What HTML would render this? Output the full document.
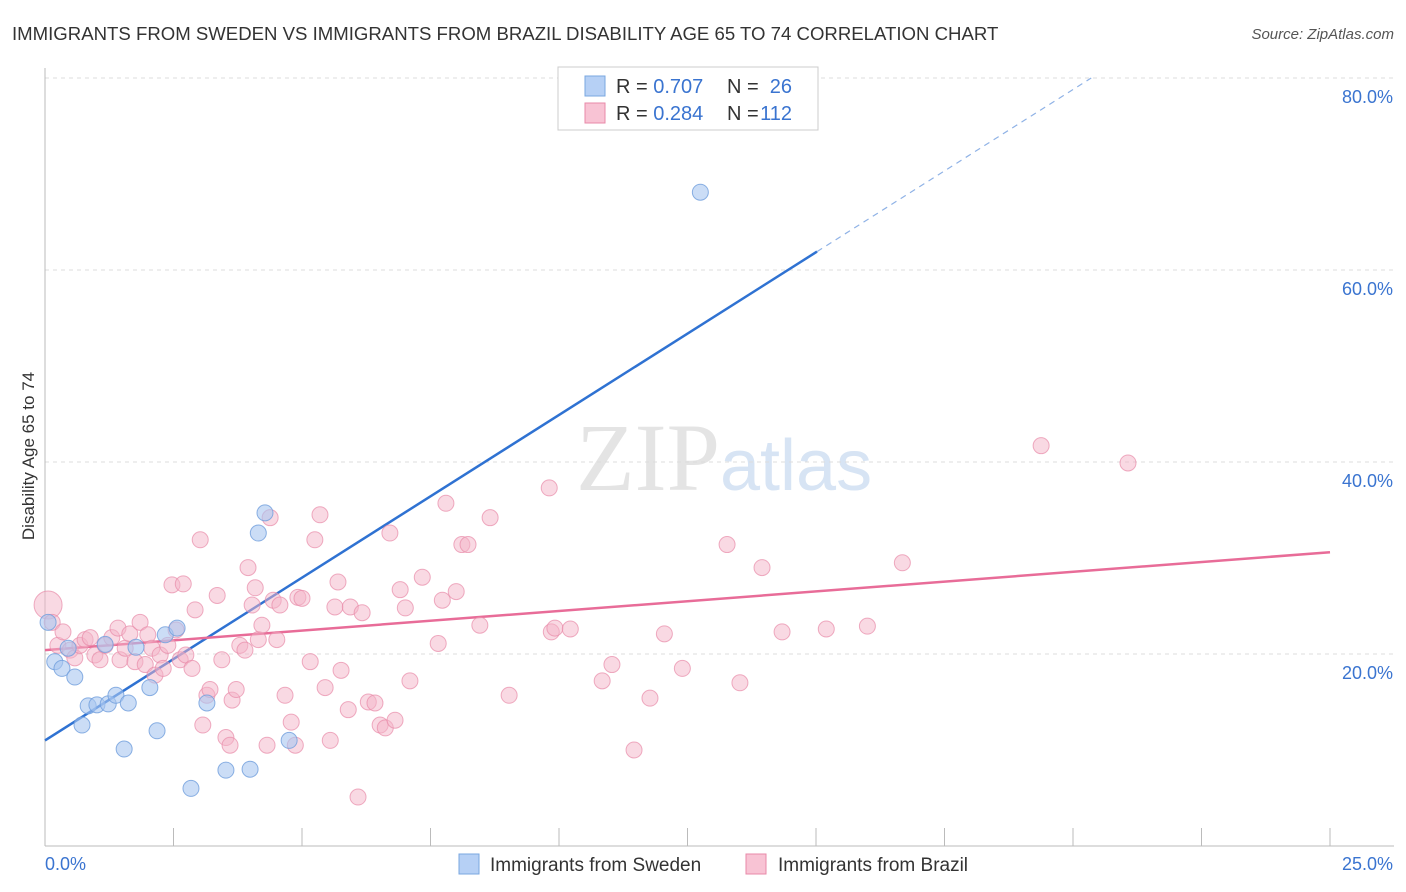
<!DOCTYPE html>
<html><head><meta charset="utf-8"><style>
body{margin:0;background:#fff;font-family:"Liberation Sans",sans-serif;}
svg{display:block}
</style></head><body>
<svg id="chart" width="1406" height="892">
<text x="12" y="40" font-size="18.6" fill="#333">IMMIGRANTS FROM SWEDEN VS IMMIGRANTS FROM BRAZIL DISABILITY AGE 65 TO 74 CORRELATION CHART</text>
<text x="1394" y="39" font-size="15" fill="#555" font-style="italic" text-anchor="end">Source: ZipAtlas.com</text>
<text x="720" y="490" font-size="96" fill="#e4e4e4" font-family="Liberation Serif" text-anchor="end">ZIP</text>
<text x="720" y="490" font-size="72" fill="#d7e4f4">atlas</text>
<text transform="translate(34,456) rotate(-90)" font-size="17" fill="#333" text-anchor="middle">Disability Age 65 to 74</text>
<g id="grid"></g><g id="lines"></g><g id="pts"></g>
<g>
<rect x="558" y="67" width="260" height="63" fill="#fff" stroke="#ccc"/>
<rect x="585" y="76" width="20" height="20" fill="#b6d0f5" stroke="#7aa7e0"/>
<rect x="585" y="103" width="20" height="20" fill="#f8c3d4" stroke="#e88aa8"/>
<text x="616" y="93" font-size="20" fill="#333">R = <tspan fill="#3a74d0">0.707</tspan></text>
<text x="727" y="93" font-size="20" fill="#333">N =</text>
<text x="792" y="93" font-size="20" fill="#3a74d0" text-anchor="end">26</text>
<text x="616" y="120" font-size="20" fill="#333">R = <tspan fill="#3a74d0">0.284</tspan></text>
<text x="727" y="120" font-size="20" fill="#333">N =</text>
<text x="792" y="120" font-size="20" fill="#3a74d0" text-anchor="end">112</text>
</g>
<g>
<rect x="459" y="854" width="20" height="20" fill="#b6d0f5" stroke="#7aa7e0"/>
<text x="490" y="871" font-size="19" fill="#333">Immigrants from Sweden</text>
<rect x="746" y="854" width="20" height="20" fill="#f8c3d4" stroke="#e88aa8"/>
<text x="778" y="871" font-size="19" fill="#333">Immigrants from Brazil</text>
</g>
</svg>
<script>
const xTicks=[0,25];
const yTicks=[20,40,60,80];
const swedenX=[0.06,0.19,0.33,0.58,0.72,0.84,1.01,1.23,1.38,1.54,1.62,1.77,2.04,2.18,2.34,2.57,2.84,3.15,3.52,3.99,4.15,4.28,4.75,12.75,0.45,1.17];
const swedenY=[23.3,19.2,18.5,17.6,12.6,14.6,14.7,14.8,15.7,10.1,14.9,20.7,16.5,12.0,22.0,22.7,6.0,14.9,7.9,8.0,32.6,34.7,11.0,68.1,20.6,21.0];
const brazilX=[0.06,0.14,0.25,0.35,0.49,0.58,0.68,0.78,0.88,0.97,1.07,1.17,1.30,1.42,1.46,1.56,1.65,1.75,1.85,1.95,2.00,2.08,2.14,2.24,2.30,2.39,2.47,2.55,2.63,2.69,2.74,2.86,2.92,3.02,3.07,3.15,3.21,3.35,3.44,3.52,3.60,3.64,3.72,3.79,3.89,3.95,4.03,4.09,4.15,4.22,4.32,4.38,4.44,4.51,4.57,4.67,4.79,4.87,4.92,5.0,5.16,5.25,5.35,5.45,5.55,5.64,5.70,5.76,5.90,5.94,6.09,6.17,6.29,6.42,6.52,6.62,6.71,6.81,6.91,7.01,7.10,7.34,7.65,7.73,7.80,8.00,8.11,8.23,8.46,8.66,9.03,9.81,9.85,9.92,10.22,10.84,11.03,11.46,11.77,12.05,12.40,13.27,13.52,13.95,14.34,15.20,16.00,16.68,19.38,21.07];
const brazilY=[25.1,23.3,20.9,22.3,20.4,19.6,20.9,21.5,21.7,19.9,19.4,20.9,21.7,22.7,19.4,20.6,22.1,19.2,23.3,18.9,22.0,20.6,17.8,19.9,18.5,20.9,27.2,22.5,19.4,27.3,19.9,18.5,24.6,31.9,12.6,15.7,16.3,26.1,19.4,11.3,10.5,15.2,16.3,20.9,20.4,29.0,25.1,26.9,21.5,23.0,10.5,34.2,25.6,21.5,25.1,15.7,12.9,10.5,25.9,25.8,19.2,31.9,34.5,16.5,11.0,24.9,27.5,18.3,14.2,24.9,5.1,24.3,15.0,14.9,12.6,12.3,32.6,13.1,26.7,24.8,17.2,28.0,21.1,25.6,35.7,26.5,31.4,31.4,23.0,34.2,15.7,37.3,22.3,22.7,22.6,17.2,18.9,10.0,15.4,22.1,18.5,31.4,17.0,29.0,22.3,22.6,22.9,29.5,41.7,39.9];
const swedenLine=[11.0,3.39];
const brazilLine=[20.4,0.408];
const X=v=>45+v/25*1285, Y=v=>846-v/20*192;
const NS="http://www.w3.org/2000/svg";
function mk(t,a,p){const e=document.createElementNS(NS,t);for(const k in a)e.setAttribute(k,a[k]);p.appendChild(e);return e;}
const grid=document.getElementById('grid');
yTicks.forEach(t=>{
 const l=mk('line',{x1:45,x2:1394,y1:Y(t),y2:Y(t),stroke:'#ddd','stroke-dasharray':'4,4'},grid);
 
 
 const tx=mk('text',{x:1393,y:Y(t)+25,'font-size':18,fill:'#3a74d0','text-anchor':'end'},grid);
 tx.textContent=t.toFixed(1)+'%';
 
 
});
const ax=mk('line',{x1:45,x2:1394,y1:846,y2:846,stroke:'#bbb'},grid);


const ay=mk('line',{x1:45,x2:45,y1:68,y2:846,stroke:'#bbb'},grid);


for(let i=1;i<=10;i++){const tk=mk('line',{x1:X(i*2.5),x2:X(i*2.5),y1:828,y2:846,stroke:'#bbb'},grid);
 
 }
xTicks.forEach((t,i)=>{const tx=mk('text',{x:i?1393:45,y:870,'font-size':18,fill:'#3a74d0','text-anchor':i?'end':'start'},grid);
 tx.textContent=t.toFixed(1)+'%';
 
 });
const lines=document.getElementById('lines');
const xs=15.02,xe=(80-swedenLine[0])/swedenLine[1];
const bl=mk('line',{x1:X(0),y1:Y(swedenLine[0]),x2:X(xs),y2:Y(swedenLine[0]+swedenLine[1]*xs),stroke:'#2f72d2','stroke-width':2.5},lines);


const bd=mk('line',{x1:X(xs),y1:Y(swedenLine[0]+swedenLine[1]*xs),x2:X(xe),y2:Y(80),stroke:'#8fb2e6','stroke-width':1.2,'stroke-dasharray':'6,5'},lines);


const pl=mk('line',{x1:X(0),y1:Y(brazilLine[0]),x2:X(25),y2:Y(brazilLine[0]+brazilLine[1]*25),stroke:'#e86c98','stroke-width':2.5},lines);


const pts=document.getElementById('pts');
brazilX.forEach((x,i)=>{const c=mk('circle',{cx:X(x),cy:Y(brazilY[i]),r:i==0?14:8,fill:'#f4b3c7','fill-opacity':0.5,stroke:'#e88aa8','stroke-opacity':0.7},pts);
 
 });
swedenX.forEach((x,i)=>{const c=mk('circle',{cx:X(x),cy:Y(swedenY[i]),r:8,fill:'#a9c7f0','fill-opacity':0.6,stroke:'#6f9ddc','stroke-opacity':0.8},pts);
 
 });
</script>
</body></html>
